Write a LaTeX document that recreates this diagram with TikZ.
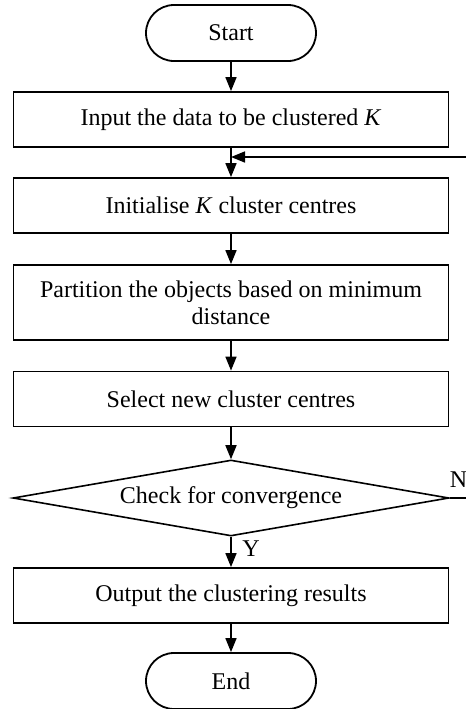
\documentclass[tikz,border=0pt]{standalone}
\usepackage{fontspec}
\setmainfont{Liberation Serif}
\usetikzlibrary{arrows.meta,shapes.geometric}

\tikzset{
	termBox/.style={rectangle, draw=black, line width=0.9pt, rounded corners=14pt, minimum width=85pt, minimum height=28pt},
	procBox/.style={rectangle, draw=black, line width=0.9pt, minimum width=217.5pt, minimum height=27.5pt, align=center},
	checkBox/.style={diamond, draw=black, line width=0.8pt, minimum width=218pt, minimum height=38pt, inner sep=0pt, aspect=5.7},
	flowArrow/.style={-{Triangle[width=5.5pt,length=7pt]}, line width=0.8pt}
}

\begin{document}
\begin{tikzpicture}[x=0.5pt, y=-0.5pt, every node/.style={font=\fontsize{12pt}{13.5pt}\selectfont}]
		\useasboundingbox (0,0) rectangle (466,709);

		\node[termBox](startNode) at (231,33){Start};
		\node[procBox](inputBox) at (231,119.5){Input the data to be clustered \textit{K}};
		\node[procBox](initBox) at (231,205.5){Initialise \textit{K} cluster centres};
		\node[procBox, minimum height=37.5pt](partBox) at (231,302.5){Partition the objects based on minimum\\distance};
		\node[procBox](selectBox) at (231,399){Select new cluster centres};
		\node[checkBox](checkNode) at (231,498){Check for convergence};
		\node[procBox](outputBox) at (231,595.5){Output the clustering results};
		\node[termBox](endNode) at (231,681){End};

		\coordinate (joinPt) at (231,157);
		\coordinate (loopTurn) at (490,498);

		% draw main flow
		\draw[flowArrow] (startNode.south) -- (inputBox.north);
		\draw[flowArrow] (inputBox.south) -- (initBox.north);
		\draw[flowArrow] (initBox.south) -- (partBox.north);
		\draw[flowArrow] (partBox.south) -- (selectBox.north);
		\draw[flowArrow] (selectBox.south) -- (checkNode.north);
		\draw[flowArrow] (checkNode.south) -- node [right=2pt, pos=0.4]{Y}(outputBox.north);
		\draw[flowArrow] (outputBox.south) -- (endNode.north);

		% draw loop back
		\draw[flowArrow] (checkNode.east) -- node [above=1.5pt, pos=0.22]{N}(loopTurn) |- (joinPt);
	\end{tikzpicture}
\end{document}
